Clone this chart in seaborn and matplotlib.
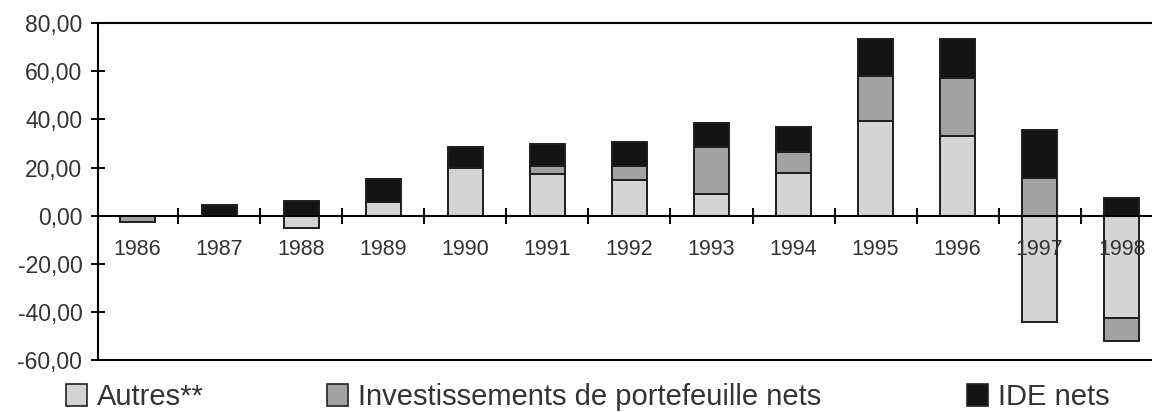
import numpy as np
import pandas as pd
import seaborn as sns
import matplotlib.pyplot as plt
from matplotlib.patches import Patch
from matplotlib.ticker import FixedLocator, FuncFormatter

# flux nets de capitaux par annee
years = ["1986", "1987", "1988", "1989", "1990", "1991", "1992",
         "1993", "1994", "1995", "1996", "1997", "1998"]
autres = [0, 0, -5.0, 5.8, 19.6, 17.2, 14.8, 9.0, 17.8, 39.3, 33.2, -44.1, -42.6]
invest = [-2.5, 0, 0, 0, 0, 3.4, 5.8, 19.6, 8.7, 18.7, 24.1, 15.5, -9.4]
ide = [0, 4.3, 6.2, 9.4, 9.0, 9.0, 10.0, 10.0, 10.2, 15.2, 15.9, 20.1, 7.2]

series_names = ["Autres**", "Investissements de portefeuille nets", "IDE nets"]
series_vals = [autres, invest, ide]
colors = ["#d4d4d4", "#a2a2a2", "#141414"]

sns.set_style("white")
plt.rcParams["font.family"] = ["Liberation Sans", "DejaVu Sans"]
txt_col = "#333333"

fig = plt.figure(figsize=(11.52, 4.12), dpi=100)
ax = fig.add_axes([0.085, 0.126, 0.915, 0.818])

# empilement : positifs vers le haut, negatifs vers le bas
pos_base = np.zeros(len(years))
neg_base = np.zeros(len(years))
for name, vals, col in zip(series_names, series_vals, colors):
    vals = np.array(vals, dtype=float)
    bottom = np.where(vals >= 0, pos_base, neg_base)
    df = pd.DataFrame({"year": years, "value": vals})
    sns.barplot(data=df, x="year", y="value", order=years, bottom=bottom,
                color=col, saturation=1, width=0.43, errorbar=None,
                edgecolor="#1e1e1e", linewidth=1.4, ax=ax)
    pos_base += np.clip(vals, 0, None)
    neg_base += np.clip(vals, None, 0)

ax.set_xlim(-0.48, 12.37)
ax.set_ylim(-60, 80)
ax.set_xlabel("")
ax.set_ylabel("")
ax.set_axisbelow(False)  # les annees restent lisibles sur les barres 1997/1998

# axe des x sur le zero, cadre en bas a -60
ax.spines["bottom"].set_position(("data", 0))
ax.spines["right"].set_visible(False)
for s in ["bottom", "top", "left"]:
    ax.spines[s].set_color("black")
    ax.spines[s].set_linewidth(1.5)
ax.axhline(-60, color="black", lw=1.5, clip_on=False, zorder=5)

ax.xaxis.set_minor_locator(FixedLocator(np.arange(0.5, 12, 1.0)))
ax.tick_params(axis="x", which="major", length=0, pad=17,
               labelsize=15.5, labelcolor=txt_col)
ax.tick_params(axis="x", which="minor", direction="inout", length=11,
               width=1.4, color="black", bottom=True)

ax.set_yticks(np.arange(-60, 81, 20))
ax.yaxis.set_major_formatter(FuncFormatter(lambda v, p: f"{v:.2f}".replace(".", ",")))
ax.tick_params(axis="y", direction="inout", length=9.5, width=1.4,
               color="black", left=True, pad=6.5, labelsize=16.5,
               labelcolor=txt_col)

# legende en bas, trois entrees espacees
for name, col, xa in zip(series_names, colors, [0.057, 0.284, 0.839]):
    leg = fig.legend(handles=[Patch(facecolor=col, edgecolor="#222222", linewidth=1.2)],
                     labels=[name], loc="center left", bbox_to_anchor=(xa, 0.036),
                     frameon=False, fontsize=21, handlelength=0.72,
                     handleheight=0.75, handletextpad=0.35, borderpad=0,
                     borderaxespad=0)
    for t in leg.get_texts():
        t.set_color(txt_col)

fig.savefig("out.png", dpi=100)
